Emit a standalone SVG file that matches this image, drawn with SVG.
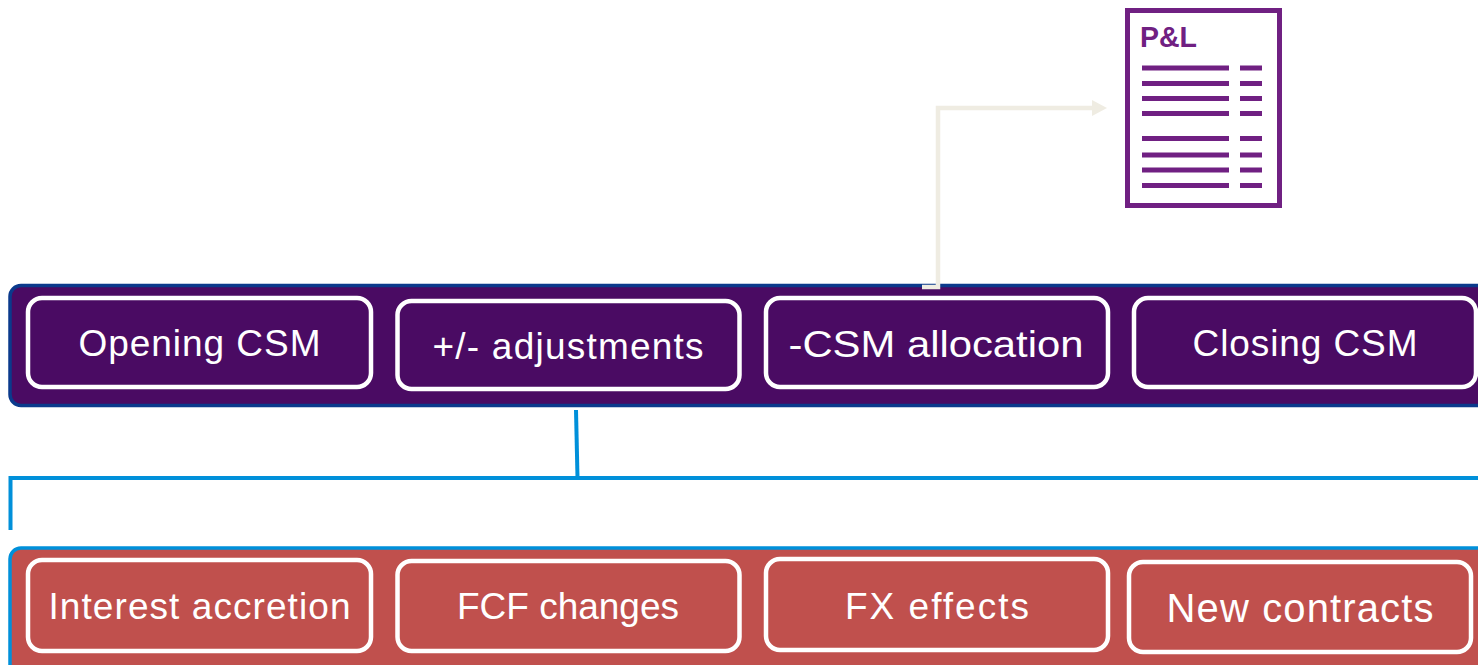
<svg xmlns="http://www.w3.org/2000/svg" width="1478" height="665" viewBox="0 0 1478 665">
  <defs>
    <style>
      .band-top{fill:#4A0B63;stroke:#0B3A8C;stroke-width:3.5}
      .band-bot{fill:#C0504D;stroke:#0090DA;stroke-width:3.5}
      .box-top{fill:#4A0B63;stroke:#FFFFFF;stroke-width:4.5}
      .box-bot{fill:#C0504D;stroke:#FFFFFF;stroke-width:4.5}
      .lbl{font-family:"Liberation Sans",Arial,sans-serif;font-size:37px;fill:#FFFFFF;text-anchor:middle}
      .blue{fill:none;stroke:#0090DA;stroke-width:4}
      .beige{fill:none;stroke:#EFECE2;stroke-width:4.5}
      .pl{fill:#702082}
    </style>
    <marker id="arr" markerUnits="userSpaceOnUse" markerWidth="16" markerHeight="18" refX="0" refY="8" orient="auto">
      <path d="M0,0 L15,8 L0,16 Z" fill="#EFECE2"/>
    </marker>
  </defs>

  <rect width="1478" height="665" fill="#FFFFFF"/>

  <!-- bands -->
  <rect class="band-top" x="10" y="285.5" width="1490" height="120" rx="11"/>
  <rect class="band-bot" x="10" y="548" width="1490" height="140" rx="11"/>

  <!-- connectors -->
  <g id="connectors">
    <path class="beige" d="M922,287 H938 V108 H1092" marker-end="url(#arr)"/>
    <path class="blue" d="M576,410 L577.5,478"/>
    <path class="blue" d="M10.5,530 V478 H1480"/>
  </g>

  <!-- P&L icon -->
  <g id="pl-report">
    <rect x="1127.5" y="10.5" width="152" height="195" fill="#FFFFFF" stroke="#702082" stroke-width="5"/>
    <text x="1140" y="47" font-family="Liberation Sans,Arial,sans-serif" font-weight="bold" font-size="30" fill="#702082" textLength="57" lengthAdjust="spacingAndGlyphs">P&amp;L</text>
    <g class="pl">
      <rect x="1142" y="65.5" width="87" height="5"/><rect x="1240" y="65.5" width="22" height="5"/>
      <rect x="1142" y="81" width="87" height="5"/><rect x="1240" y="81" width="22" height="5"/>
      <rect x="1142" y="96" width="87" height="5"/><rect x="1240" y="96" width="22" height="5"/>
      <rect x="1142" y="111" width="87" height="5"/><rect x="1240" y="111" width="22" height="5"/>
      <rect x="1142" y="136" width="87" height="5"/><rect x="1240" y="136" width="22" height="5"/>
      <rect x="1142" y="152.5" width="87" height="5"/><rect x="1240" y="152.5" width="22" height="5"/>
      <rect x="1142" y="167.5" width="87" height="5"/><rect x="1240" y="167.5" width="22" height="5"/>
      <rect x="1142" y="183" width="87" height="5"/><rect x="1240" y="183" width="22" height="5"/>
    </g>
  </g>

  <!-- top nodes -->
  <g id="opening-csm">
    <rect class="box-top" x="28" y="298" width="343" height="89" rx="14"/>
    <text class="lbl" x="199.5" y="356" textLength="242" lengthAdjust="spacing">Opening CSM</text>
  </g>
  <g id="adjustments">
    <rect class="box-top" x="397.5" y="301" width="342" height="88" rx="14"/>
    <text class="lbl" x="568" y="359" textLength="271" lengthAdjust="spacing">+/- adjustments</text>
  </g>
  <g id="csm-allocation">
    <rect class="box-top" x="766" y="298" width="342" height="89" rx="14"/>
    <text class="lbl" x="936" y="357" textLength="295" lengthAdjust="spacingAndGlyphs">-CSM allocation</text>
  </g>
  <g id="closing-csm">
    <rect class="box-top" x="1134" y="298" width="342" height="89" rx="14"/>
    <text class="lbl" x="1305" y="356" textLength="225" lengthAdjust="spacing">Closing CSM</text>
  </g>

  <!-- bottom nodes -->
  <g id="interest-accretion">
    <rect class="box-bot" x="28" y="560" width="343" height="91" rx="14"/>
    <text class="lbl" x="199.5" y="619" textLength="302" lengthAdjust="spacing">Interest accretion</text>
  </g>
  <g id="fcf-changes">
    <rect class="box-bot" x="397.5" y="561" width="342" height="90" rx="14"/>
    <text class="lbl" x="568" y="619" textLength="222" lengthAdjust="spacing">FCF changes</text>
  </g>
  <g id="fx-effects">
    <rect class="box-bot" x="766" y="559" width="342" height="91" rx="14"/>
    <text class="lbl" x="937" y="619" textLength="184" lengthAdjust="spacing">FX effects</text>
  </g>
  <g id="new-contracts">
    <rect class="box-bot" x="1129" y="562" width="342" height="90" rx="14"/>
    <text class="lbl" x="1300" y="622" style="font-size:40px" textLength="267" lengthAdjust="spacing">New contracts</text>
  </g>
</svg>
